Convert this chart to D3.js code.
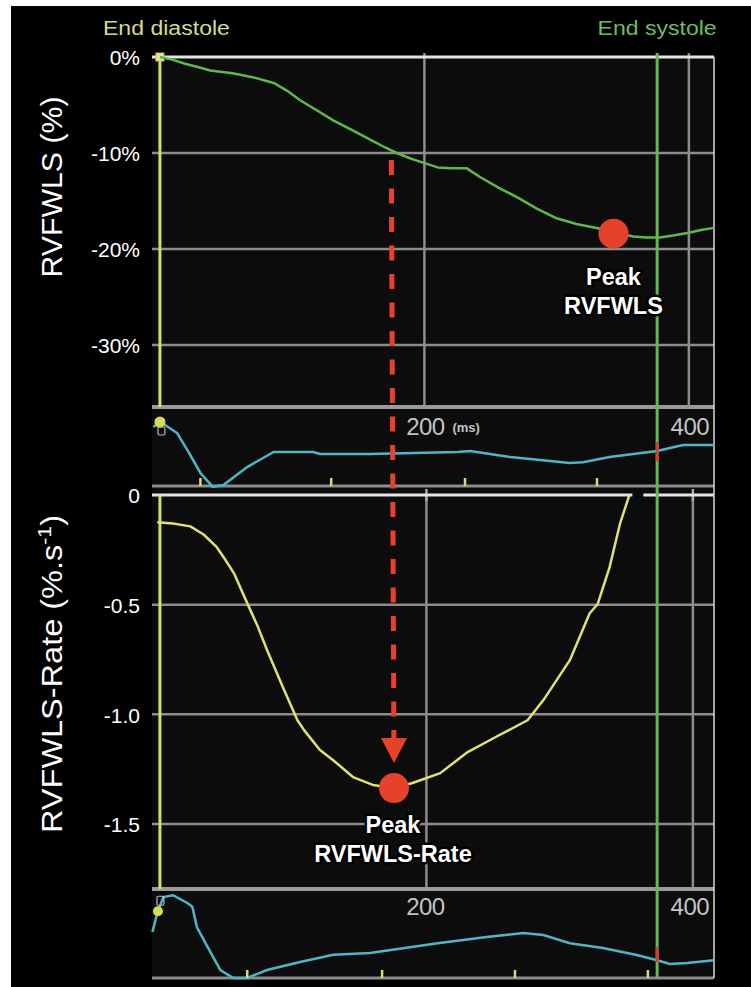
<!DOCTYPE html>
<html>
<head>
<meta charset="utf-8">
<script src="https://cdn.jsdelivr.net/npm/d3@7"></script>
<style>
  html, body { margin: 0; padding: 0; background: #fff; }
  svg { display: block; }
  text { font-family: "Liberation Sans", Arial, Helvetica, sans-serif; }
</style>
</head>
<body>
<svg id="chart" width="751" height="987"></svg>
<script>
// ---- Data -------------------------------------------------------------
// Right-ventricular free-wall longitudinal strain (%) over one cycle (ms)
const strainTime  = [0, 10, 19, 30, 38, 55, 70, 86, 96, 106, 118, 131, 145, 159, 170, 179, 190, 199, 210, 220, 232, 242, 256, 270, 285, 300, 315, 333, 345, 358, 368, 378, 388, 400, 410, 419];
const strainValue = [0, -0.3, -0.7, -1.1, -1.4, -1.7, -2.1, -2.7, -3.5, -4.5, -5.5, -6.6, -7.6, -8.6, -9.4, -10.0, -10.6, -11.0, -11.5, -11.6, -11.6, -12.5, -13.6, -14.6, -15.8, -16.8, -17.4, -17.9, -18.3, -18.7, -18.8, -18.8, -18.6, -18.3, -18.0, -17.8];

// Strain rate (%.s-1)
const rateTime  = [-2, 10, 23, 33, 43, 50, 56, 66, 74, 81, 93, 104, 109, 121, 131, 146, 161, 177, 191, 212, 232, 255, 278, 290, 310, 325, 331, 340, 348, 355];
const rateValue = [-0.124, -0.13, -0.143, -0.18, -0.238, -0.30, -0.357, -0.493, -0.60, -0.707, -0.876, -1.027, -1.072, -1.163, -1.209, -1.286, -1.322, -1.336, -1.313, -1.268, -1.175, -1.10, -1.027, -0.935, -0.753, -0.539, -0.498, -0.330, -0.129, 0.0];

// Reference traces in the two narrow strips (relative amplitude 0..1)
const upperTraceTime  = [-5, 0.4, 13, 22, 30.6, 40, 48, 66, 86, 116, 121, 159, 225, 234.6, 265, 310, 320, 340, 376, 395.5, 419];
const upperTraceValue = [0.747, 0.81, 0.67, 0.42, 0.165, -0.01, 0.013, 0.24, 0.43, 0.43, 0.405, 0.405, 0.43, 0.443, 0.367, 0.29, 0.30, 0.367, 0.443, 0.52, 0.52];
const lowerTraceTime  = [-5.7, -2, 2.6, 10, 21, 24.5, 28, 36, 45.7, 55.5, 66, 81, 106, 131, 159, 210, 247, 274.6, 290, 310, 335, 360.6, 376, 385.6, 398.5, 419];
const lowerTraceValue = [0.517, 0.73, 0.91, 0.93, 0.84, 0.80, 0.57, 0.35, 0.09, 0, 0, 0.09, 0.18, 0.26, 0.28, 0.39, 0.46, 0.506, 0.483, 0.39, 0.337, 0.258, 0.2, 0.157, 0.169, 0.2];

// Tick marks along the traces (ms)
const upperEventTimes = [30.6, 129.5, 230.7, 330.5];
const lowerEventTimes = [66, 168, 268.5, 369];

// Axis ticks
const strainTicks = [0, -10, -20, -30];
const rateTicks   = [0, -0.5, -1.0, -1.5];
const timeTicks   = [200, 400];

// Timing events (ms)
const endDiastole = 0;
const endSystole  = 376;

// Annotated peaks
const peakStrainTime = 343, peakStrainValue = -18.4;
const peakRateTime   = 177, peakRateValue   = -1.336;
// Time at which strain crosses -10 %
const arrowStartTime = 175, arrowStartValue = -10;

// ---- Layout -----------------------------------------------------------
const svg = d3.select("#chart");
const W = 751, H = 987;
const left = 152, right = 714;
const topPanel  = { top: 57,  bottom: 407 };
const upStrip   = { top: 407, bottom: 486 };
const ratePanel = { top: 495, bottom: 889 };
const lowStrip  = { top: 889, bottom: 978 };

const x = d3.scaleLinear().domain([-6, 419]).range([left, right]);
const yStrain = d3.scaleLinear().domain([0, -30]).range([topPanel.top, 345]);
const yRate   = d3.scaleLinear().domain([0, -1.5]).range([ratePanel.top, 824]);
const yUp     = d3.scaleLinear().domain([0, 1]).range([upStrip.bottom, upStrip.top]);
const yLow    = d3.scaleLinear().domain([0, 1]).range([lowStrip.bottom, lowStrip.top]);

const C = {
  grid: "#8c8c8c",
  sep: "#9a9a9a",
  zero: "#e4e4e4",
  green: "#5db949",
  systole: "#62b94e",
  diastole: "#d6de6a",
  rate: "#dfe171",
  cyan: "#4fb6c5",
  red: "#e8412b",
  tick: "#c4c4c4"
};

// frame
svg.append("rect").attr("width", W).attr("height", H).attr("fill", "#fff");
svg.append("rect").attr("x", 11).attr("y", 6).attr("width", W - 11).attr("height", H - 6).attr("fill", "#000");
svg.append("rect").attr("x", left).attr("y", topPanel.top)
  .attr("width", right - left).attr("height", lowStrip.bottom - topPanel.top).attr("fill", "#0c0c0c");

// ---- Grids ------------------------------------------------------------
const grid = svg.append("g");

function hGrid(scale, ticks) {
  ticks.forEach(t => {
    grid.append("line")
      .attr("x1", left).attr("x2", right)
      .attr("y1", scale(t)).attr("y2", scale(t))
      .attr("stroke", t === 0 ? C.zero : C.grid)
      .attr("stroke-width", t === 0 ? 3 : 2.5);
  });
}
function vGrid(y0, y1, shift) {
  timeTicks.forEach((t, i) => {
    grid.append("line")
      .attr("x1", x(t) + shift * (i + 1)).attr("x2", x(t) + shift * (i + 1))
      .attr("y1", y0).attr("y2", y1)
      .attr("stroke", C.grid).attr("stroke-width", 2.5);
  });
}
vGrid(topPanel.top - 4, topPanel.bottom, 0);
vGrid(ratePanel.top, ratePanel.bottom, 2);
hGrid(yStrain, strainTicks.slice(1));
hGrid(yRate, rateTicks.slice(1));

// strip separators
[[topPanel.bottom, 4, C.sep], [upStrip.bottom, 3, C.grid], [ratePanel.bottom, 4, C.sep], [lowStrip.bottom, 3, C.grid]]
  .forEach(([y, w, c]) => {
    grid.append("line").attr("x1", left).attr("x2", right).attr("y1", y).attr("y2", y)
      .attr("stroke", c).attr("stroke-width", w);
  });

// small grid ticks on the zero line of the rate panel
timeTicks.forEach((t, i) => {
  grid.append("line").attr("x1", x(t) + 2 * (i + 1)).attr("x2", x(t) + 2 * (i + 1))
    .attr("y1", ratePanel.top - 6).attr("y2", ratePanel.top + 6)
    .attr("stroke", "#aaa").attr("stroke-width", 2.5);
});

hGrid(yStrain, [0]);
hGrid(yRate, [0]);

// break in the zero line where the strain-rate trace returns to baseline
const lastRate = rateTime.length - 1;
grid.append("rect")
  .attr("x", x(rateTime[lastRate]) + 3).attr("y", yRate(0) - 2.5)
  .attr("width", 11).attr("height", 5).attr("fill", "#0c0c0c");

// right border
grid.append("line").attr("x1", right).attr("x2", right)
  .attr("y1", topPanel.top).attr("y2", lowStrip.bottom)
  .attr("stroke", "#d8d8d8").attr("stroke-width", 1.5);

// ---- Timing markers -----------------------------------------------------
svg.append("line").attr("x1", x(endDiastole)).attr("x2", x(endDiastole))
  .attr("y1", topPanel.top).attr("y2", topPanel.bottom)
  .attr("stroke", C.diastole).attr("stroke-width", 3);
svg.append("line").attr("x1", x(endDiastole)).attr("x2", x(endDiastole))
  .attr("y1", ratePanel.top).attr("y2", ratePanel.bottom)
  .attr("stroke", C.diastole).attr("stroke-width", 3);
svg.append("line").attr("x1", x(endSystole)).attr("x2", x(endSystole))
  .attr("y1", topPanel.top - 4).attr("y2", lowStrip.bottom)
  .attr("stroke", C.systole).attr("stroke-width", 3);

// start marker on the strain curve
svg.append("rect").attr("x", x(endDiastole) - 4).attr("y", yStrain(0) - 4)
  .attr("width", 8).attr("height", 8)
  .attr("fill", "#e9e4a0").attr("stroke", "#c8c070").attr("stroke-width", 1);

// ---- Strip traces -------------------------------------------------------
const upperLine = d3.line().x(d => x(d[0])).y(d => yUp(d[1]));
const lowerLine = d3.line().x(d => x(d[0])).y(d => yLow(d[1]));

svg.append("path").datum(d3.zip(upperTraceTime, upperTraceValue))
  .attr("d", upperLine).attr("fill", "none").attr("stroke", C.cyan).attr("stroke-width", 2.5);
svg.append("path").datum(d3.zip(lowerTraceTime, lowerTraceValue))
  .attr("d", lowerLine).attr("fill", "none").attr("stroke", C.cyan).attr("stroke-width", 2.5);

// event ticks
upperEventTimes.forEach(t => {
  svg.append("line").attr("x1", x(t)).attr("x2", x(t))
    .attr("y1", upStrip.bottom - 8).attr("y2", upStrip.bottom)
    .attr("stroke", C.diastole).attr("stroke-width", 2.5);
});
lowerEventTimes.forEach(t => {
  svg.append("line").attr("x1", x(t)).attr("x2", x(t))
    .attr("y1", lowStrip.bottom - 8).attr("y2", lowStrip.bottom)
    .attr("stroke", C.diastole).attr("stroke-width", 2.5);
});

// start-of-cycle dots on the strip traces
svg.append("rect").attr("x", x(0) - 2).attr("y", yUp(0.81) + 5).attr("width", 7).attr("height", 8)
  .attr("rx", 1.5).attr("fill", "none").attr("stroke", "#bbb").attr("stroke-width", 1.2);
svg.append("circle").attr("cx", x(0)).attr("cy", yUp(0.81)).attr("r", 5.5).attr("fill", "#d6dc55");
svg.append("rect").attr("x", x(0) - 3).attr("y", yLow(0.93) + 1).attr("width", 7).attr("height", 9)
  .attr("rx", 1.5).attr("fill", "none").attr("stroke", "#bbb").attr("stroke-width", 1.2);
svg.append("circle").attr("cx", x(-1.5)).attr("cy", yLow(0.75)).attr("r", 5).attr("fill", "#d6dc55");

// end-systole marks on the strip traces
svg.append("line").attr("x1", x(endSystole)).attr("x2", x(endSystole))
  .attr("y1", yUp(0.443) - 9).attr("y2", yUp(0.443) + 10)
  .attr("stroke", "#d8393a").attr("stroke-width", 3);
svg.append("line").attr("x1", x(endSystole)).attr("x2", x(endSystole))
  .attr("y1", yLow(0.2) - 13).attr("y2", yLow(0.2) + 2)
  .attr("stroke", "#d8393a").attr("stroke-width", 3);

// time labels in the strips
function timeLabels(baseline, withUnit) {
  timeTicks.forEach(t => {
    svg.append("text").attr("x", x(t) + 1).attr("y", baseline)
      .attr("text-anchor", "middle").attr("fill", C.tick)
      .attr("font-size", 24).attr("letter-spacing", -0.5).text(t);
  });
  if (withUnit) {
    svg.append("text").attr("x", x(timeTicks[0]) + 28).attr("y", baseline - 3)
      .attr("fill", C.tick).attr("font-size", 13).attr("font-weight", "bold").text("(ms)");
  }
}
timeLabels(435, true);
timeLabels(915, false);

// ---- Main curves --------------------------------------------------------
const strainLine = d3.line().x(d => x(d[0])).y(d => yStrain(d[1]));
const rateLine   = d3.line().x(d => x(d[0])).y(d => yRate(d[1]));

svg.append("path").datum(d3.zip(strainTime, strainValue))
  .attr("d", strainLine).attr("fill", "none").attr("stroke", C.green)
  .attr("stroke-width", 2.5).attr("stroke-linejoin", "round");
svg.append("path").datum(d3.zip(rateTime, rateValue))
  .attr("d", rateLine).attr("fill", "none").attr("stroke", C.rate)
  .attr("stroke-width", 2.5).attr("stroke-linejoin", "round");

// ---- Axes ---------------------------------------------------------------
const axStrain = d3.axisLeft(yStrain).tickValues(strainTicks)
  .tickFormat(d => `${d}%`).tickSize(0).tickPadding(0);
const axRate = d3.axisLeft(yRate).tickValues(rateTicks)
  .tickFormat(d => d === 0 ? "0" : d.toFixed(1)).tickSize(0).tickPadding(0);

[axStrain, axRate].forEach(ax => {
  const g = svg.append("g").attr("transform", `translate(140,0)`).call(ax);
  g.select(".domain").remove();
  g.selectAll("text").attr("fill", "#fff").attr("font-size", 21)
    .attr("font-family", '"Liberation Sans", Arial, sans-serif').attr("dy", "0.38em");
});

// axis titles
svg.append("text")
  .attr("transform", `translate(62,187) rotate(-90)`)
  .attr("text-anchor", "middle").attr("fill", "#fff").attr("font-size", 29)
  .attr("textLength", 181).attr("lengthAdjust", "spacingAndGlyphs")
  .text("RVFWLS (%)");

const rt = svg.append("text")
  .attr("transform", `translate(62,674) rotate(-90)`)
  .attr("text-anchor", "middle").attr("fill", "#fff").attr("font-size", 29)
  .attr("textLength", 318).attr("lengthAdjust", "spacingAndGlyphs");
rt.append("tspan").text("RVFWLS-Rate (%.s");
rt.append("tspan").attr("font-size", 19).attr("dy", -11).text("-1");
rt.append("tspan").attr("dy", 11).text(")");

// event labels
svg.append("text").attr("x", x(endDiastole) + 6.5).attr("y", 35)
  .attr("text-anchor", "middle").attr("fill", "#d3dc86").attr("font-size", 20)
  .attr("textLength", 127).attr("lengthAdjust", "spacingAndGlyphs").text("End diastole");
svg.append("text").attr("x", x(endSystole)).attr("y", 35)
  .attr("text-anchor", "middle").attr("fill", "#6cbf5a").attr("font-size", 20)
  .attr("textLength", 119).attr("lengthAdjust", "spacingAndGlyphs").text("End systole");

// ---- Arrow from -10 % strain down to the strain-rate peak --------------
const ax0 = x(arrowStartTime), ay0 = yStrain(arrowStartValue) + 7;
const ax1 = x(peakRateTime),   ay1 = yRate(peakRateValue) - 25;
const headLen = 25, headHalf = 13;
svg.append("line")
  .attr("x1", ax0).attr("y1", ay0)
  .attr("x2", ax0 + (ax1 - ax0) * (1 - headLen / (ay1 - ay0))).attr("y2", ay1 - headLen)
  .attr("stroke", C.red).attr("stroke-width", 5).attr("stroke-dasharray", "15,13.5");
svg.append("path")
  .attr("d", `M${ax1 - headHalf},${ay1 - headLen} L${ax1 + headHalf},${ay1 - headLen} L${ax1},${ay1} Z`)
  .attr("fill", C.red);

// ---- Peak dots and labels ----------------------------------------------
svg.append("circle").attr("cx", x(peakStrainTime)).attr("cy", yStrain(peakStrainValue))
  .attr("r", 15).attr("fill", C.red);
svg.append("circle").attr("cx", x(peakRateTime)).attr("cy", yRate(peakRateValue))
  .attr("r", 15).attr("fill", C.red);

function peakLabel(cx, y1, lines) {
  const t = svg.append("text").attr("text-anchor", "middle")
    .attr("fill", "#fff").attr("font-size", 23.5).attr("font-weight", "bold")
    .attr("stroke", "#000").attr("stroke-width", 5).attr("paint-order", "stroke")
    .attr("stroke-linejoin", "round");
  lines.forEach((s, i) => t.append("tspan").attr("x", cx).attr("y", y1 + i * 28.5).text(s));
}
peakLabel(x(peakStrainTime), 285, ["Peak", "RVFWLS"]);
peakLabel(x(peakRateTime) - 1, 833, ["Peak", "RVFWLS-Rate"]);
</script>
</body>
</html>
